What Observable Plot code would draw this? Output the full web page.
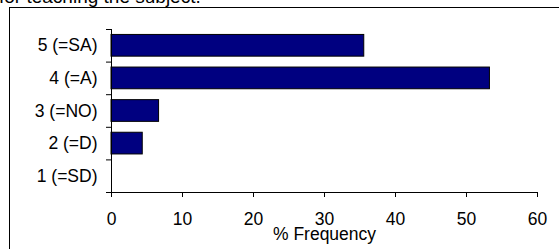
<!DOCTYPE html>
<html>
<head>
<meta charset="utf-8">
<script src="https://cdn.jsdelivr.net/npm/d3@7"></script>
<script src="https://cdn.jsdelivr.net/npm/@observablehq/plot@0.6"></script>
<style>
  html, body { margin: 0; padding: 0; background: #fff; overflow: hidden; }
  #wrap { position: relative; width: 559px; height: 249px; font-family: "Liberation Sans", Arial, sans-serif; }
  #title { position: absolute; left: -1px; top: -14px; font-size: 19px; white-space: nowrap; color: #000; }
  #frame { position: absolute; left: 9px; top: 7px; width: 600px; height: 300px; border-left: 1px solid #000; border-top: 1px solid #000; }
  #chart { position: absolute; left: 0; top: 0; }
</style>
</head>
<body>
<div id="wrap">
  <div id="title">for teaching the subject.</div>
  <div id="frame"></div>
  <div id="chart"></div>
</div>
<script>
const categories = ["1 (=SD)", "2 (=D)", "3 (=NO)", "4 (=A)", "5 (=SA)"];
const levels = [1, 2, 3, 4, 5];
const percents = [0, 4.4, 6.7, 53.3, 35.6];
const xTicks = [0, 10, 20, 30, 40, 50, 60];
const xLabel = "% Frequency";

const data = levels.map((lv, i) => ({level: lv, label: categories[i], pct: percents[i]}));
const half = 0.333;
const bounds = [0.5, ...levels.map(l => l + 0.5)];
const FS = 17.5;

const chart = Plot.plot({
  width: 559,
  height: 249,
  marginLeft: 111,
  marginRight: 22,
  marginTop: 29,
  marginBottom: 57,
  style: {fontFamily: "'Liberation Sans', Arial, sans-serif", fontSize: "17.5px", color: "#000", background: "transparent", overflow: "visible"},
  x: {domain: [0, 60]},
  y: {domain: [0.5, 5.5]},
  marks: [
    Plot.rectX(data.filter(d => d.pct > 0), {x1: 0, x2: "pct", y1: d => d.level - half, y2: d => d.level + half, fill: "#000080", stroke: "#000", strokeWidth: 1}),
    Plot.ruleX([0], {stroke: "#000"}),
    Plot.ruleY([0.5], {stroke: "#000"}),
    Plot.axisX({ticks: xTicks, tickSize: 5, tickPadding: 15, tickFormat: d => String(d), label: null, stroke: "#000", fontSize: FS}),
    Plot.axisY({ticks: bounds, tickSize: 5, tickFormat: () => "", label: null, stroke: "#000"}),
    Plot.axisY({ticks: levels, tickSize: 0, tickPadding: 14, tickFormat: d => categories[levels.indexOf(d)], label: null, fontSize: FS}),
    Plot.text([xLabel], {frameAnchor: "bottom", dy: 47, text: d => d, fontSize: FS})
  ]
});
document.getElementById("chart").appendChild(chart);
</script>
</body>
</html>
